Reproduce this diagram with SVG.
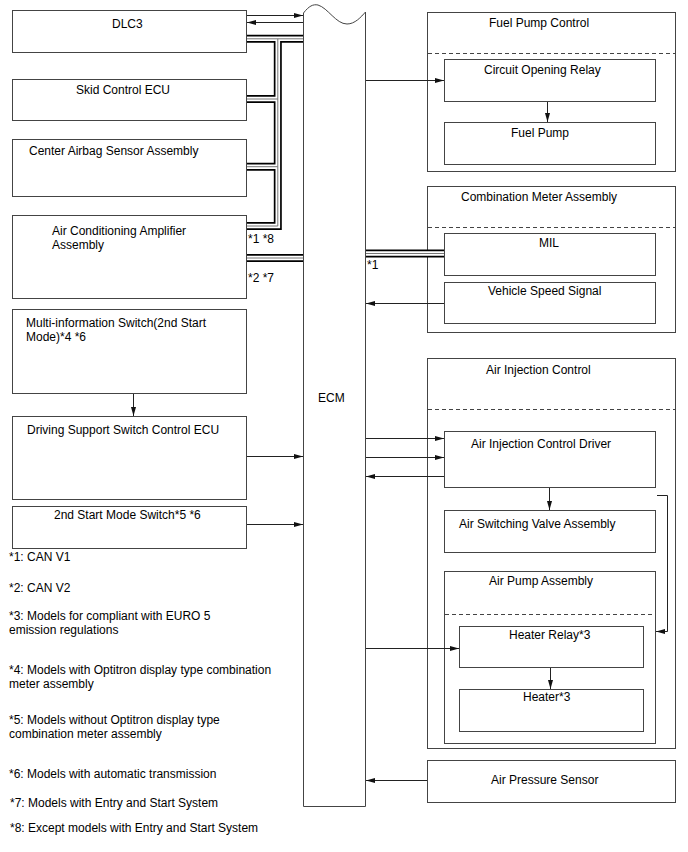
<svg xmlns="http://www.w3.org/2000/svg" width="688" height="852" viewBox="0 0 688 852">
<style>
text{font-family:"Liberation Sans",Arial,sans-serif;font-size:12px;fill:#000}
.b{fill:#fff;stroke:#444;stroke-width:1}
.d{fill:none;stroke:#444;stroke-width:1;stroke-dasharray:4,3}
.w{fill:none;stroke:#222;stroke-width:1}
.a{fill:none;stroke:#222;stroke-width:1;marker-end:url(#ah)}
.bk{fill:none;stroke:#000;stroke-width:8}
.bw{fill:none;stroke:#fff;stroke-width:4.6}
.bg{fill:none;stroke:#777;stroke-width:1}
</style>
<defs>
<marker id="ah" markerUnits="userSpaceOnUse" markerWidth="9" markerHeight="6" refX="9" refY="2.5" orient="auto"><path d="M0,0 L9,2.5 L0,5 z" fill="#111"/></marker>
</defs>
<rect width="688" height="852" fill="#fff"/>

<g id="dlc3"><rect class="b" x="12.5" y="10.5" width="234" height="42"/><text x="112" y="28">DLC3</text></g>
<g id="skid"><rect class="b" x="12.5" y="79.5" width="234" height="41"/><text x="76" y="94">Skid Control ECU</text></g>
<g id="airbag"><rect class="b" x="12.5" y="139.5" width="234" height="57"/><text x="29" y="155">Center Airbag Sensor Assembly</text></g>
<g id="acamp"><rect class="b" x="12.5" y="215.5" width="234" height="83"/><text x="52" y="235">Air Conditioning Amplifier</text><text x="52" y="249">Assembly</text></g>
<g id="multiinfo"><rect class="b" x="12.5" y="309.5" width="234" height="84"/><text x="26" y="327">Multi-information Switch(2nd Start</text><text x="26" y="341">Mode)*4 *6</text></g>
<g id="drivesupport"><rect class="b" x="12.5" y="416.5" width="234" height="83"/><text x="27" y="434">Driving Support Switch Control ECU</text></g>
<g id="startswitch"><rect class="b" x="12.5" y="506.5" width="234" height="42"/><text x="54" y="519">2nd Start Mode Switch*5 *6</text></g>

<g id="ecm"><path class="b" d="M303.5,806.5 V13 C309,6 313,4 318,5 C328,8 336,24 347,24 C355,24 361,17 365.5,12 V806.5 Z"/><text x="318" y="402">ECM</text></g>

<g id="fuelpumpcontrol"><rect class="b" x="427.5" y="12.5" width="248" height="159"/><line class="d" x1="428" y1="53.5" x2="675" y2="53.5"/><text x="489" y="27">Fuel Pump Control</text></g>
<g id="circuitrelay"><rect class="b" x="444.5" y="59.5" width="211" height="42"/><text x="484" y="74">Circuit Opening Relay</text></g>
<g id="fuelpump"><rect class="b" x="444.5" y="122.5" width="211" height="42"/><text x="511" y="137">Fuel Pump</text></g>

<g id="combmeter"><rect class="b" x="427.5" y="186.5" width="248" height="146"/><line class="d" x1="428" y1="227.5" x2="675" y2="227.5"/><text x="461" y="201">Combination Meter Assembly</text></g>
<g id="mil"><rect class="b" x="444.5" y="233.5" width="211" height="42"/><text x="539" y="247">MIL</text></g>
<g id="speed"><rect class="b" x="444.5" y="282.5" width="211" height="41"/><text x="488" y="295">Vehicle Speed Signal</text></g>

<g id="airinjection"><rect class="b" x="427.5" y="358.5" width="248" height="390"/><line class="d" x1="428" y1="409.5" x2="675" y2="409.5"/><text x="486" y="374">Air Injection Control</text></g>
<g id="aicdriver"><rect class="b" x="444.5" y="431.5" width="211" height="56"/><text x="471" y="448">Air Injection Control Driver</text></g>
<g id="switchvalve"><rect class="b" x="444.5" y="510.5" width="211" height="42"/><text x="459" y="528">Air Switching Valve Assembly</text></g>
<g id="airpump"><rect class="b" x="444.5" y="571.5" width="211" height="172"/><line class="d" x1="445" y1="614.5" x2="655" y2="614.5"/><text x="489" y="585">Air Pump Assembly</text></g>
<g id="heaterrelay"><rect class="b" x="459.5" y="626.5" width="184" height="41"/><text x="509" y="639">Heater Relay*3</text></g>
<g id="heater"><rect class="b" x="459.5" y="689.5" width="184" height="42"/><text x="523" y="701">Heater*3</text></g>
<g id="pressure"><rect class="b" x="427.5" y="760.5" width="248" height="42"/><text x="491" y="784">Air Pressure Sensor</text></g>

<g id="connectors">
<path class="a" d="M247,15.5 H303"/>
<path class="a" d="M303,22.5 H247"/>
<path class="bk" d="M247,38.8 H303 M277.8,38.8 V226 H247 M277.8,99 H247 M277.8,166.7 H247 M247,258 H303 M366,253.5 H444"/>
<path class="bw" d="M247,38.8 H303 M277.8,38.8 V226 H247 M277.8,99 H247 M277.8,166.7 H247 M247,258 H303 M366,253.5 H444"/>
<path class="bg" d="M247,38.8 H303 M277.8,38.8 V226 H247 M277.8,99 H247 M277.8,166.7 H247 M247,258 H303 M366,253.5 H444"/>
<path class="a" d="M366,80.5 H444"/>
<path class="a" d="M547.5,102 V122"/>
<path class="a" d="M444,303.5 H366"/>
<path class="a" d="M133.5,394 V416"/>
<path class="a" d="M247,456.5 H303"/>
<path class="a" d="M247,524.5 H303"/>
<path class="a" d="M366,438.5 H444"/>
<path class="a" d="M366,457.5 H444"/>
<path class="a" d="M444,476.5 H366"/>
<path class="a" d="M549.5,488 V510"/>
<path class="a" d="M657,495.5 H667.5 V631.5 H656"/>
<path class="a" d="M366,648.5 H459"/>
<path class="a" d="M550.5,668 V689"/>
<path class="a" d="M427,780.5 H366"/>
</g>

<g id="buslabels"><text x="248" y="243">*1 *8</text><text x="248" y="282">*2 *7</text><text x="367" y="269">*1</text></g>

<g id="legend">
<text x="9" y="561">*1: CAN V1</text>
<text x="9" y="592">*2: CAN V2</text>
<text x="9" y="620">*3: Models for compliant with EURO 5</text>
<text x="9" y="633.5">emission regulations</text>
<text x="9" y="674">*4: Models with Optitron display type combination</text>
<text x="9" y="688">meter assembly</text>
<text x="9" y="724">*5: Models without Optitron display type</text>
<text x="9" y="738">combination meter assembly</text>
<text x="9" y="778">*6: Models with automatic transmission</text>
<text x="10" y="807">*7: Models with Entry and Start System</text>
<text x="10" y="832">*8: Except models with Entry and Start System</text>
</g>
</svg>
